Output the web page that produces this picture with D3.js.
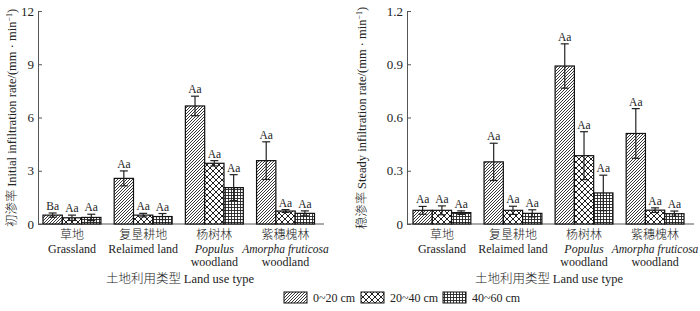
<!DOCTYPE html>
<html>
<head>
<meta charset="utf-8">
<script src="https://cdn.jsdelivr.net/npm/d3@7"></script>
<style>
  body { margin: 0; background: #fff; }
  text { font-family: "Liberation Serif", "Noto Sans CJK SC", serif; fill: #222; }
</style>
</head>
<body>
<div id="main"></div>
<script>
const ctx = { w: 700, h: 311 };

// land use types (Chinese / English lines)
const categories = ["grass", "reclaimed", "populus", "amorpha"];
const catZh = ["草地", "复垦耕地", "杨树林", "紫穗槐林"];
const catEn = [["Grassland"], ["Relaimed land"], ["Populus", "woodland"], ["Amorpha fruticosa", "woodland"]];
const catItalic = [false, false, true, true];
const depths = ["0~20 cm", "20~40 cm", "40~60 cm"];

// initial infiltration rate, per category: [0~20, 20~40, 40~60]
const initMean = [[0.5, 0.35, 0.37], [2.57, 0.5, 0.42], [6.65, 3.42, 2.05], [3.57, 0.73, 0.6]];
const initErr = [[0.12, 0.15, 0.18], [0.42, 0.1, 0.17], [0.55, 0.15, 0.73], [1.06, 0.08, 0.14]];
const initLbl = [["Ba", "Aa", "Aa"], ["Aa", "Aa", "Aa"], ["Aa", "Aa", "Aa"], ["Aa", "Aa", "Aa"]];
const initTicks = [0, 3, 6, 9, 12];

// steady infiltration rate
const steadyMean = [[0.077, 0.077, 0.064], [0.35, 0.077, 0.06], [0.89, 0.385, 0.175], [0.51, 0.078, 0.058]];
const steadyErr = [[0.022, 0.025, 0.01], [0.105, 0.023, 0.02], [0.125, 0.135, 0.1], [0.14, 0.013, 0.015]];
const steadyLbl = [["Aa", "Aa", "Aa"], ["Aa", "Aa", "Aa"], ["Aa", "Aa", "Aa"], ["Aa", "Aa", "Aa"]];
const steadyTicks = [0, 0.3, 0.6, 0.9, 1.2];

const patterns = ["pDiag", "pCross", "pGrid"];

function makePatterns(svg) {
    let defs = svg.append("defs");
    // diagonal hatch
    let p1 = defs.append("pattern").attr("id", "pDiag").attr("patternUnits", "userSpaceOnUse")
        .attr("width", 3).attr("height", 3);
    p1.append("rect").attr("width", 3).attr("height", 3).attr("fill", "#fff");
    p1.append("path").attr("d", "M-1,1 l2,-2 M0,3 l3,-3 M2,4 l2,-2")
        .attr("stroke", "#222").attr("stroke-width", 0.9);
    // crosshatch (diamonds)
    let p2 = defs.append("pattern").attr("id", "pCross").attr("patternUnits", "userSpaceOnUse")
        .attr("width", 6).attr("height", 6);
    p2.append("rect").attr("width", 6).attr("height", 6).attr("fill", "#fff");
    p2.append("path").attr("d", "M0,0 L6,6 M6,0 L0,6")
        .attr("stroke", "#222").attr("stroke-width", 1);
    // grid
    let p3 = defs.append("pattern").attr("id", "pGrid").attr("patternUnits", "userSpaceOnUse")
        .attr("width", 3).attr("height", 3);
    p3.append("rect").attr("width", 3).attr("height", 3).attr("fill", "#fff");
    p3.append("path").attr("d", "M0,0.5 H3 M0.5,0 V3")
        .attr("stroke", "#222").attr("stroke-width", 0.9);
}

function drawPanel(svg, opt) {
    let g = svg.append("g");
    let yScale = d3.scaleLinear().domain([0, opt.max]).range([224, 11]);
    let xScale = d3.scaleBand().domain(categories).range(opt.xRange)
        .paddingInner(0.186).paddingOuter(0);
    let xSub = d3.scaleBand().domain(depths).range([0, xScale.bandwidth()]);

    // y axis, ticks inside
    let yAxis = d3.axisRight(yScale).tickValues(opt.ticks).tickSize(4)
        .tickFormat((d) => (d === 0 ? "0" : d3.format(opt.fmt)(d)));
    let ya = g.append("g").attr("transform", `translate(${opt.axisX},0)`).call(yAxis);
    ya.select(".domain").attr("stroke", "#555");
    ya.selectAll(".tick line").attr("stroke", "#555");
    ya.selectAll(".tick text").attr("x", -4).attr("text-anchor", "end")
        .style("font-size", "13px").attr("fill", "#222");

    // x axis baseline
    g.append("line")
        .attr("x1", opt.axisX).attr("x2", opt.xEnd)
        .attr("y1", yScale(0)).attr("y2", yScale(0))
        .attr("stroke", "#555").attr("stroke-width", 1);

    // bars
    categories.forEach((c, ci) => {
        depths.forEach((dp, di) => {
            let v = opt.mean[ci][di], e = opt.err[ci][di];
            let x = xScale(c) + xSub(dp);
            let bw = xSub.bandwidth();
            g.append("rect")
                .attr("x", x).attr("y", yScale(v))
                .attr("width", bw).attr("height", yScale(0) - yScale(v))
                .attr("fill", `url(#${patterns[di]})`)
                .attr("stroke", "#111").attr("stroke-width", 1.2);
            let cx = x + bw / 2;
            let lo = Math.max(0, v - e);
            g.append("line").attr("x1", cx).attr("x2", cx)
                .attr("y1", yScale(v + e)).attr("y2", yScale(lo))
                .attr("stroke", "#222").attr("stroke-width", 1.2);
            [v + e, lo].forEach((yy) => {
                g.append("line").attr("x1", cx - 4).attr("x2", cx + 4)
                    .attr("y1", yScale(yy)).attr("y2", yScale(yy))
                    .attr("stroke", "#222").attr("stroke-width", 1.2);
            });
            g.append("text")
                .attr("x", cx).attr("y", yScale(v + e) - 3)
                .attr("text-anchor", "middle")
                .style("font-size", "11.5px")
                .text(opt.lbl[ci][di]);
        });
        let cx = xScale(c) + xScale.bandwidth() / 2;
        g.append("text").attr("x", cx).attr("y", 239)
            .attr("text-anchor", "middle")
            .style("font-family", "'Noto Sans CJK SC', sans-serif")
            .style("font-size", "12px").style("font-weight", 300)
            .text(catZh[ci]);
        catEn[ci].forEach((line, li) => {
            let big = line.length > 14;
            g.append("text").attr("x", cx).attr("y", 252.5 + li * 13)
                .attr("text-anchor", "middle")
                .style("font-size", big ? "11.5px" : "12px")
                .style("font-style", (catItalic[ci] && li === 0) ? "italic" : "normal")
                .text(line);
        });
    });

    // x title
    let xt = g.append("text").attr("x", opt.xTitleX).attr("y", 283)
        .attr("text-anchor", "middle").style("font-size", "12.5px");
    xt.append("tspan").style("font-family", "'Noto Sans CJK SC', sans-serif")
        .style("font-weight", 300).text("土地利用类型 ");
    xt.append("tspan").text("Land use type");

    // y title
    let yt = g.append("text")
        .attr("transform", `translate(${opt.yTitleX},118) rotate(-90)`)
        .attr("text-anchor", "middle").style("font-size", "12.5px");
    yt.append("tspan").style("font-family", "'Noto Sans CJK SC', sans-serif")
        .style("font-weight", 300).text(opt.yZh + " ");
    yt.append("tspan").text(opt.yEn + "/(mm · min");
    yt.append("tspan").attr("dy", -4).style("font-size", "8px").text("−1");
    yt.append("tspan").attr("dy", 4).text(")");
}

function createViz() {
    let svg = d3.select("#main").append("svg")
        .attr("width", ctx.w).attr("height", ctx.h);
    makePatterns(svg);

    drawPanel(svg, {
        max: 12, ticks: initTicks, fmt: "d", mean: initMean, err: initErr, lbl: initLbl,
        axisX: 38, xEnd: 324, xRange: [43, 314.5], xTitleX: 180, yTitleX: 16,
        yZh: "初渗率", yEn: "Initial infiltration rate"
    });
    drawPanel(svg, {
        max: 1.2, ticks: steadyTicks, fmt: ".1f", mean: steadyMean, err: steadyErr, lbl: steadyLbl,
        axisX: 407, xEnd: 694, xRange: [413, 684], xTitleX: 549, yTitleX: 366,
        yZh: "稳渗率", yEn: "Steady infiltration rate"
    });

    // legend
    let legX = [284, 361, 443];
    let leg = svg.append("g");
    depths.forEach((d, i) => {
        leg.append("rect").attr("x", legX[i]).attr("y", 292)
            .attr("width", 23).attr("height", 11)
            .attr("fill", `url(#${patterns[i]})`)
            .attr("stroke", "#111").attr("stroke-width", 1);
        leg.append("text").attr("x", legX[i] + 29).attr("y", 302)
            .style("font-size", "12px").text(d);
    });
}

createViz();
</script>
</body>
</html>
